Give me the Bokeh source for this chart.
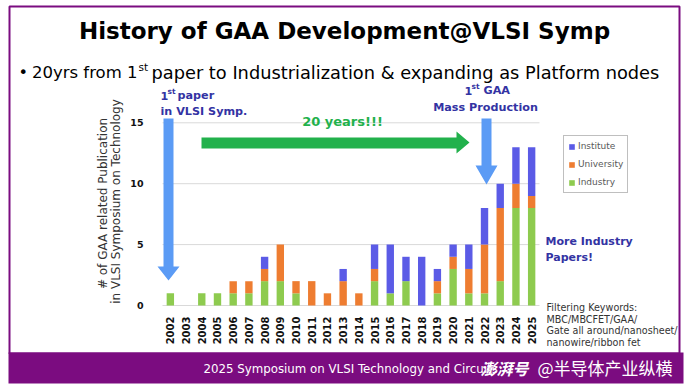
import math
from bokeh.plotting import figure
from bokeh.models import (ColumnDataSource, Range1d, FixedTicker, Label,
                          BoxAnnotation, PolyAnnotation, Legend, LegendItem)
from bokeh.embed import file_html
from bokeh.resources import INLINE

# ---------------- data ----------------
years = [2002, 2003, 2004, 2005, 2006, 2007, 2008, 2009, 2010, 2011, 2012, 2013,
         2014, 2015, 2016, 2017, 2018, 2019, 2020, 2021, 2022, 2023, 2024, 2025]
industry   = [1, 0, 1, 1, 1, 1, 2, 2, 1, 0, 0, 0, 0, 2, 1, 2, 0, 1, 3, 1, 1, 2, 8, 8]
university = [0, 0, 0, 0, 1, 1, 1, 3, 1, 2, 1, 2, 1, 1, 0, 0, 0, 1, 1, 2, 4, 6, 2, 1]
institute  = [0, 0, 0, 0, 0, 0, 1, 0, 0, 0, 0, 1, 0, 2, 4, 2, 4, 1, 1, 2, 3, 2, 3, 4]
series_names = ["Industry", "University", "Institute"]
y_ticks = [0, 5, 10, 15]

GREEN, ORANGE, BLUE = "#8ECB4F", "#EE7D31", "#5B5BE6"
NAVY = "#3333A3"
ARROW_BLUE = "#5B9BF5"
ARROW_GREEN = "#22B14C"
PURPLE = "#7B0C80"
FONT = "DejaVu Sans"

W, H = 690, 388
# chart plot area in page pixels: categories [first-0.5, last+0.5] -> [162, 539]; 0 -> 305, 15 -> 122.3
CL, CR, CB, CT = 162.0, 539.0, 305.0, 122.3
x_lo, x_hi = years[0] - 0.5, years[-1] + 0.5
sx = (CR - CL) / (x_hi - x_lo)
sy = (CB - CT) / 15.0
x_range = Range1d(x_lo - CL / sx, x_hi + (W - CR) / sx)
y_range = Range1d(-(H - CB) / sy, CB / sy)

src = ColumnDataSource(dict(year=years, Industry=industry, University=university,
                            Institute=institute))

p = figure(width=W, height=H, x_range=x_range, y_range=y_range,
           output_backend="svg", toolbar_location=None, min_border=0)
p.background_fill_color = "white"
p.border_fill_color = "white"
p.outline_line_color = None
p.grid.visible = False

# horizontal gridlines across the category span only
p.segment(x0=[x_lo] * len(y_ticks), x1=[x_hi] * len(y_ticks), y0=y_ticks, y1=y_ticks,
          line_color="#D9D9D9", line_width=1)

rs = p.vbar_stack(series_names, x="year", width=0.47, color=[GREEN, ORANGE, BLUE],
                  line_color=None, source=src)

xa, ya = p.xaxis[0], p.yaxis[0]
xa.ticker = FixedTicker(ticks=years)
ya.ticker = FixedTicker(ticks=y_ticks)
xa.fixed_location = 0
ya.fixed_location = x_lo
for ax in (xa, ya):
    ax.axis_line_color = None
    ax.major_tick_line_color = None
    ax.minor_tick_line_color = None
    ax.major_label_text_font = FONT
    ax.major_label_text_font_style = "bold"
    ax.major_label_text_color = "#111111"
ya.major_label_text_font_size = "9.5px"
ya.major_label_standoff = 13
xa.major_label_text_font_size = "10px"
xa.major_label_orientation = math.pi / 2
xa.major_label_standoff = 5

# page pixel -> screen units (relative to frame bottom-left = page bottom-left)
def X(v):
    return v

def Y(v):
    return H - v

def lab(text, x, y, size, color="#000000", style="normal", align="left", angle=0.0,
        font=FONT):
    p.add_layout(Label(x=X(x), y=Y(y), x_units="screen", y_units="screen", text=text,
                       text_font=font, text_font_size=f"{size}px", text_color=color,
                       text_font_style=style, text_align=align, text_baseline="middle",
                       angle=angle))

def poly(xs, ys, color):
    p.add_layout(PolyAnnotation(xs=[X(v) for v in xs], ys=[Y(v) for v in ys],
                                xs_units="screen", ys_units="screen", fill_color=color,
                                fill_alpha=1.0, line_color=None))

# slide border and footer
p.add_layout(BoxAnnotation(left=X(9), right=X(679), top=Y(6), bottom=Y(353),
                           left_units="screen", right_units="screen",
                           top_units="screen", bottom_units="screen",
                           fill_alpha=0, line_color=PURPLE, line_alpha=1.0, line_width=2))
p.add_layout(BoxAnnotation(left=X(8), right=X(683), top=Y(352), bottom=Y(383),
                           left_units="screen", right_units="screen",
                           top_units="screen", bottom_units="screen",
                           fill_color=PURPLE, fill_alpha=1, line_color=None))

# title and bullet
lab("History of GAA Development@VLSI Symp", 344, 30, 23, style="bold", align="center")
lab("\u2022", 18, 72, 16)
lab("20yrs from 1", 137, 72, 16.5, align="right")
lab("st", 138, 66, 10.5)
lab("paper to Industrialization & expanding as Platform nodes", 151, 72, 17.8)

# y axis title
lab("# of GAA related Publication", 102, 203, 12, color="#333333", align="center",
    angle=math.pi / 2)
lab("in VLSI Symposium on Technology", 115, 201, 12, color="#333333", align="center",
    angle=math.pi / 2)

# annotations
lab("1", 160, 95, 11.2, color=NAVY, style="bold")
lab("st", 167, 91, 7.5, color=NAVY, style="bold")
lab("paper", 177, 95, 11.2, color=NAVY, style="bold")
lab("in VLSI Symp.", 160, 111, 11.2, color=NAVY, style="bold")

lab("1", 464, 90, 11.2, color=NAVY, style="bold")
lab("st", 471, 86, 7.5, color=NAVY, style="bold")
lab("GAA", 483, 90, 11.2, color=NAVY, style="bold")
lab("Mass Production", 485, 107, 11.2, color=NAVY, style="bold", align="center")

lab("20 years!!!", 342, 121, 13, color=ARROW_GREEN, style="bold", align="center")

poly([163, 173, 173, 179, 168, 157, 163], [118, 118, 266, 266, 280, 266, 266], ARROW_BLUE)
poly([481, 491, 491, 497, 486, 475, 481], [118, 118, 165, 165, 184, 165, 165], ARROW_BLUE)
poly([201, 456, 456, 469, 456, 456, 201], [137, 137, 131, 142, 153, 148, 148], ARROW_GREEN)

lab("More Industry", 545, 241, 11, color=NAVY, style="bold")
lab("Papers!", 545, 257, 11, color=NAVY, style="bold")

for i, line in enumerate(["Filtering Keywords:", "MBC/MBCFET/GAA/",
                          "Gate all around/nanosheet/", "nanowire/ribbon fet"]):
    lab(line, 546, 307 + 11.6 * i, 9.6, color="#333333")

# legend
legend = Legend(items=[LegendItem(label=series_names[2], renderers=[rs[2]]),
                       LegendItem(label=series_names[1], renderers=[rs[1]]),
                       LegendItem(label=series_names[0], renderers=[rs[0]])],
                location=(X(563), Y(193)))
legend.border_line_color = "#808080"
legend.border_line_width = 1
legend.background_fill_color = "white"
legend.label_text_font = FONT
legend.label_text_font_size = "9px"
legend.label_text_color = "#595959"
legend.glyph_width = 7
legend.glyph_height = 7
legend.label_height = 12
legend.label_standoff = 3
legend.spacing = 6
legend.padding = 4
legend.margin = 0
p.add_layout(legend)

# footer text and watermark
lab("2025 Symposium on VLSI Technology and Circuits", 203, 368, 11.8, color="white")
lab("澎湃号", 480, 367, 16, color="white", style="bold italic", font="Noto Sans CJK SC")
lab("@半导体产业纵横", 537, 367, 17, color="white", font="Noto Sans CJK SC")

open("out.html", "w").write(file_html(p, INLINE))
